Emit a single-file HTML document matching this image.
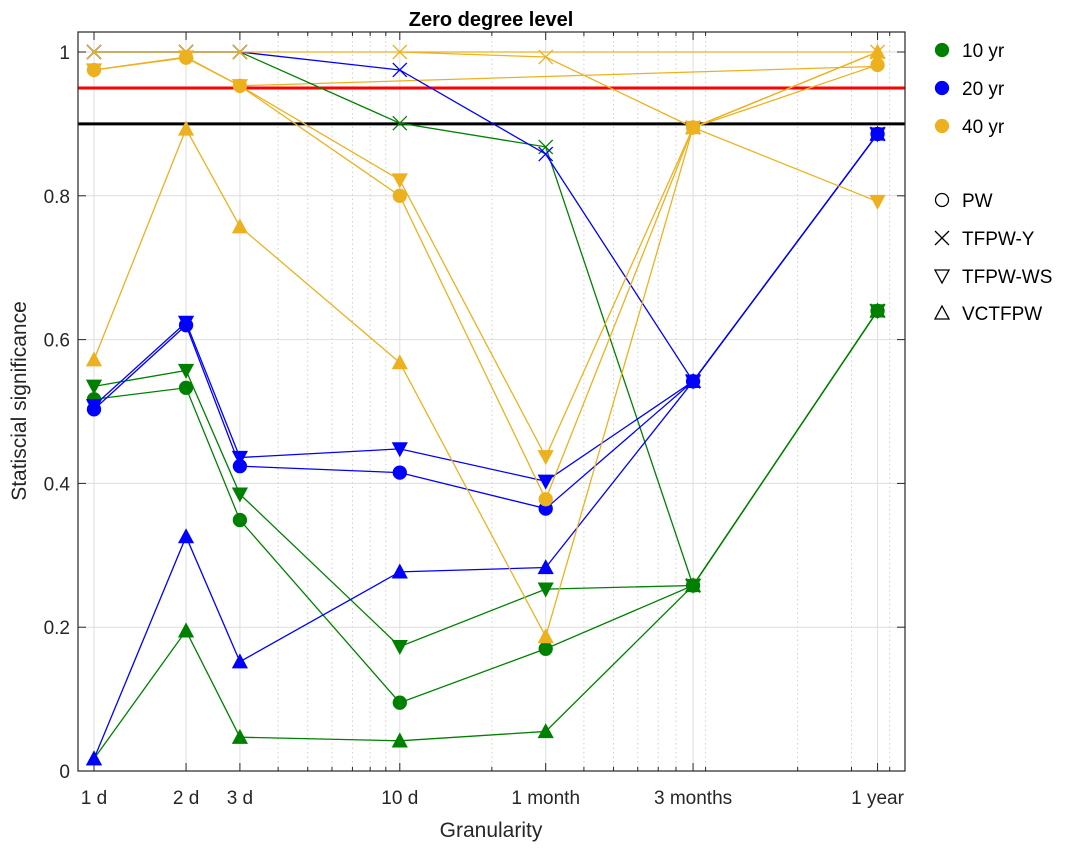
<!DOCTYPE html>
<html><head><meta charset="utf-8"><style>
body{margin:0;background:#fff;}
svg{font-family:"Liberation Sans",Arial,sans-serif;}
</style></head><body>
<svg id="chart" width="1084" height="853" xmlns="http://www.w3.org/2000/svg">
<rect x="0" y="0" width="1084" height="853" fill="#fff"/>
<g id="grid"></g>
<g id="ref"></g>
<g id="series"></g>
<g id="axes"></g>
<text x="491" y="26" text-anchor="middle" font-size="20" font-weight="bold">Zero degree level</text>
<text x="491" y="837" text-anchor="middle" font-size="21" fill="#262626">Granularity</text>
<text transform="translate(26,401) rotate(-90)" text-anchor="middle" font-size="21" fill="#262626">Statiscial significance</text>
<g id="legend"></g>
</svg>
<script>
const categories=[1,2,3,10,30,91,365];
const xTickLabels=["1 d","2 d","3 d","10 d","1 month","3 months","1 year"];
const yTicks=[0,0.2,0.4,0.6,0.8,1];
const refLines=[0.95,0.9];
const g10_PW=[0.517,0.533,0.349,0.095,0.170,0.258,0.640];
const g10_Y=[1.0,1.0,1.0,0.901,0.868,0.258,0.640];
const g10_WS=[0.535,0.557,0.385,0.173,0.253,0.258,0.640];
const g10_VC=[0.017,0.195,0.047,0.042,0.055,0.258,0.640];
const g20_PW=[0.503,0.620,0.424,0.415,0.365,0.542,0.886];
const g20_Y=[1.0,1.0,1.0,0.975,0.858,0.542,0.886];
const g20_WS=[0.508,0.624,0.436,0.448,0.403,0.542,0.886];
const g20_VC=[0.017,0.326,0.152,0.277,0.283,0.542,0.886];
const g40_PW=[0.975,0.992,0.953,0.800,0.378,0.895,0.982];
const g40_Y=[1.0,1.0,1.0,1.0,0.993,0.895,1.0];
const g40_WS=[0.975,0.993,0.953,0.822,0.437,0.895,0.792];
const g40_VC=[0.572,0.893,0.757,0.568,0.187,0.895,1.0];
const extraFrom=[3,10];const extraTo=[365,365];const extraFromY=[0.953,1.0];const extraToY=[0.980,1.0];

const NS="http://www.w3.org/2000/svg";
const L=78,R=905,T=32,B=771;
const X=v=>94+Math.log10(v)*305.8;
const Y=v=>771-v*719;
function el(tag,attrs,parent){const e=document.createElementNS(NS,tag);for(const k in attrs)e.setAttribute(k,attrs[k]);parent.appendChild(e);return e;}
const grid=document.getElementById('grid'),axes=document.getElementById('axes'),ser=document.getElementById('series'),ref=document.getElementById('ref'),leg=document.getElementById('legend');
for(const dec of [1,10,100]){for(let m=1;m<10;m++){const v=dec*m;const x=X(v);if(x<L||x>R)continue;
 if(categories.some(c=>Math.abs(X(c)-x)<3))continue;
 const ln=el('line',{x1:x,x2:x,y1:T,y2:B,stroke:'#cfcfcf','stroke-dasharray':'1.5,3','stroke-width':1},grid);
 
 el('line',{x1:x,x2:x,y1:B,y2:B-4,stroke:'#262626'},axes);el('line',{x1:x,x2:x,y1:T,y2:T+4,stroke:'#262626'},axes);}}
categories.forEach((c,i)=>{const x=X(c);
 const ln=el('line',{x1:x,x2:x,y1:T,y2:B,stroke:'#dedede'},grid);
 
 el('line',{x1:x,x2:x,y1:B,y2:B-8,stroke:'#262626'},axes);el('line',{x1:x,x2:x,y1:T,y2:T+8,stroke:'#262626'},axes);
 const t=el('text',{x:x,y:B+33,'text-anchor':'middle','font-size':19,fill:'#262626'},axes);t.textContent=xTickLabels[i];
 });
yTicks.forEach(v=>{const y=Y(v);
 const ln=el('line',{x1:L,x2:R,y1:y,y2:y,stroke:'#dedede'},grid);
 
 el('line',{x1:L,x2:L+8,y1:y,y2:y,stroke:'#262626'},axes);el('line',{x1:R,x2:R-8,y1:y,y2:y,stroke:'#262626'},axes);
 const t=el('text',{x:L-8,y:y+7,'text-anchor':'end','font-size':19,fill:'#262626'},axes);t.textContent=(v===0||v===1)?String(v):v.toFixed(1);
 });
const box=el('rect',{x:L,y:T,width:R-L,height:B-T,fill:'none',stroke:'#262626','stroke-width':1.2},axes);

refLines.forEach((v,i)=>{const ln=el('line',{x1:L,x2:R,y1:Y(v),y2:Y(v),stroke:i===0?'#ff0000':'#000',"stroke-width":3},ref);
 });
function marker(type,x,y,col,parent,filled){
 let e;const r=7;
 if(type==='o')e=el('circle',{cx:x,cy:y,r:6.5,fill:filled?col:'none',stroke:col,'stroke-width':1.3},parent);
 else if(type==='x')e=el('path',{d:`M${x-r} ${y-r}L${x+r} ${y+r}M${x-r} ${y+r}L${x+r} ${y-r}`,stroke:col,'stroke-width':1.3,fill:'none'},parent);
 else if(type==='v')e=el('path',{d:`M${x-r} ${y-6}L${x+r} ${y-6}L${x} ${y+7}Z`,fill:filled?col:'none',stroke:col,'stroke-width':1.3},parent);
 else e=el('path',{d:`M${x-r} ${y+6}L${x+r} ${y+6}L${x} ${y-7}Z`,fill:filled?col:'none',stroke:col,'stroke-width':1.3},parent);
 return e;}
const C10='#008000',C20='#0000ff',C40='#EDB120';
const all=[[g10_PW,C10,'o','10yr-pw'],[g10_Y,C10,'x','10yr-tfpw-y'],[g10_WS,C10,'v','10yr-tfpw-ws'],[g10_VC,C10,'^','10yr-vctfpw'],
[g20_PW,C20,'o','20yr-pw'],[g20_Y,C20,'x','20yr-tfpw-y'],[g20_WS,C20,'v','20yr-tfpw-ws'],[g20_VC,C20,'^','20yr-vctfpw'],
[g40_PW,C40,'o','40yr-pw'],[g40_Y,C40,'x','40yr-tfpw-y'],[g40_WS,C40,'v','40yr-tfpw-ws'],[g40_VC,C40,'^','40yr-vctfpw']];
extraFrom.forEach((f,i)=>{const ln=el('line',{x1:X(f),y1:Y(extraFromY[i]),x2:X(extraTo[i]),y2:Y(extraToY[i]),stroke:C40,'stroke-width':1.3},ser);
 });
all.forEach(([vals,col,m,name])=>{const g=el('g',{},ser);
 const pts=vals.map((v,i)=>X(categories[i])+','+Y(v)).join(' ');
 const pl=el('polyline',{points:pts,fill:'none',stroke:col,'stroke-width':1.3},g);
 
 vals.forEach((v,i)=>{const mk=marker(m,X(categories[i]),Y(v),col,g,true);
  });});
const legItems=[['o',C10,true,'10 yr',50],['o',C20,true,'20 yr',88],['o',C40,true,'40 yr',126],['o','#000',false,'PW',200],['x','#000',false,'TFPW-Y',238],['v','#000',false,'TFPW-WS',276],['^','#000',false,'VCTFPW',313]];
legItems.forEach(([m,c,f,lab,y])=>{const g=el('g',{},leg);
 marker(m,942,y,c,g,f);const t=el('text',{x:962,y:y+7,'font-size':19,fill:'#000'},g);t.textContent=lab;});
</script>
</body></html>
